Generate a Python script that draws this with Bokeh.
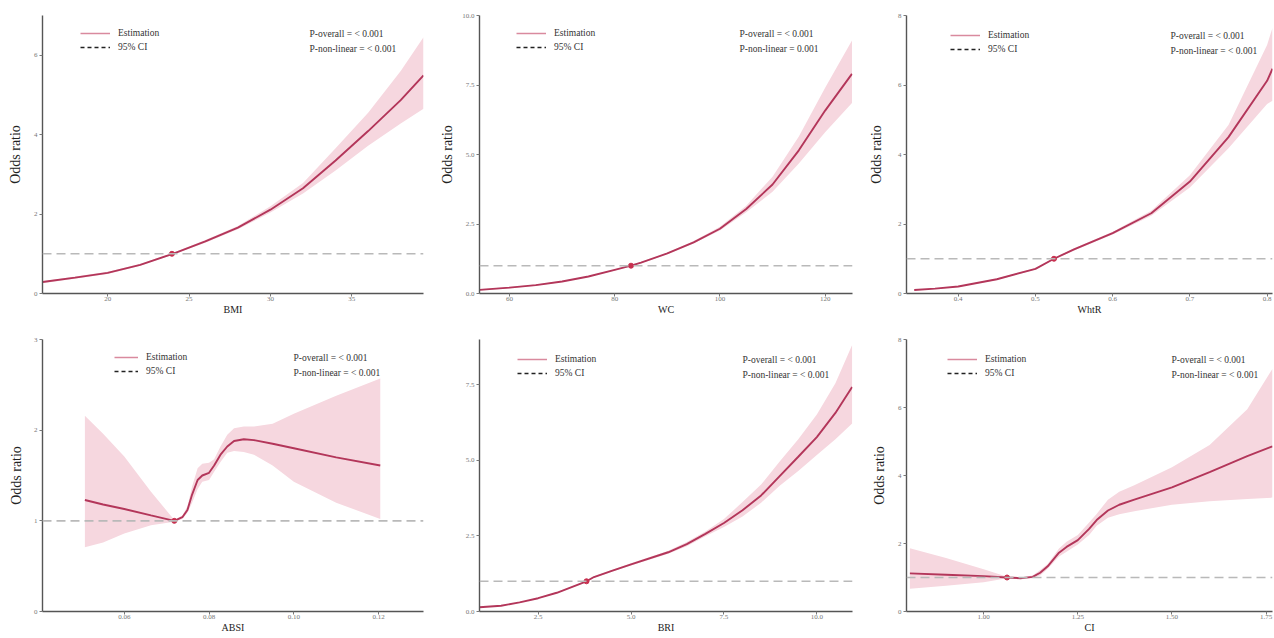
from bokeh.plotting import figure
from bokeh.layouts import gridplot
from bokeh.models import Span, Legend, LegendItem, Range1d, FixedTicker, Label
from bokeh.embed import file_html
from bokeh.resources import INLINE

# ---------------- data ----------------
x_names = ["BMI", "WC", "WhtR", "ABSI", "BRI", "CI"]
p_overall = ["P-overall = < 0.001"] * 6
p_nonlinear = ["P-non-linear = < 0.001", "P-non-linear = 0.001", "P-non-linear = < 0.001",
               "P-non-linear = < 0.001", "P-non-linear = < 0.001", "P-non-linear = < 0.001"]

bmi_x  = [16.0, 18, 20, 22, 24, 26, 28, 30, 32, 34, 36, 38, 39.4]
bmi_or = [0.29, 0.40, 0.52, 0.72, 1.0, 1.31, 1.66, 2.11, 2.65, 3.35, 4.09, 4.87, 5.49]
bmi_lo = [0.26, 0.37, 0.49, 0.70, 0.98, 1.28, 1.62, 2.04, 2.52, 3.10, 3.72, 4.28, 4.65]
bmi_hi = [0.31, 0.43, 0.55, 0.74, 1.02, 1.35, 1.70, 2.20, 2.78, 3.66, 4.55, 5.60, 6.45]
bmi_ref = 23.95

wc_x  = [54.3, 60, 65, 70, 75, 80, 83.1, 85, 90, 95, 100, 105, 110, 115, 120, 125.1]
wc_or = [0.13, 0.21, 0.30, 0.43, 0.61, 0.85, 1.0, 1.11, 1.44, 1.84, 2.33, 3.04, 3.92, 5.15, 6.58, 7.90]
wc_lo = [0.11, 0.19, 0.28, 0.41, 0.59, 0.83, 0.98, 1.09, 1.41, 1.80, 2.27, 2.92, 3.66, 4.68, 5.80, 6.85]
wc_hi = [0.15, 0.23, 0.32, 0.45, 0.63, 0.87, 1.02, 1.13, 1.47, 1.89, 2.40, 3.16, 4.20, 5.65, 7.40, 9.10]
wc_ref = 83.1

whtr_x  = [0.343, 0.37, 0.40, 0.45, 0.50, 0.524, 0.55, 0.60, 0.65, 0.70, 0.75, 0.80, 0.807]
whtr_or = [0.10, 0.14, 0.20, 0.41, 0.71, 1.0, 1.27, 1.74, 2.31, 3.22, 4.50, 6.12, 6.47]
whtr_lo = [0.09, 0.13, 0.19, 0.39, 0.69, 0.98, 1.24, 1.70, 2.24, 3.05, 4.18, 5.45, 5.55]
whtr_hi = [0.11, 0.15, 0.21, 0.43, 0.73, 1.02, 1.30, 1.78, 2.38, 3.40, 4.85, 7.15, 7.65]
whtr_ref = 0.524

absi_x  = [0.0507, 0.055, 0.060, 0.0663, 0.0718, 0.0737, 0.0749, 0.0760, 0.0773, 0.0784, 0.0800,
           0.0812, 0.0827, 0.0843, 0.0859, 0.0882, 0.0906, 0.095, 0.100, 0.110, 0.1204]
absi_or = [1.23, 1.18, 1.13, 1.06, 1.0, 1.04, 1.12, 1.29, 1.45, 1.50, 1.53,
           1.61, 1.73, 1.82, 1.88, 1.90, 1.89, 1.85, 1.80, 1.70, 1.61]
absi_lo = [0.71, 0.76, 0.86, 0.95, 0.99, 1.02, 1.09, 1.20, 1.35, 1.43, 1.45,
           1.54, 1.65, 1.75, 1.77, 1.76, 1.73, 1.61, 1.43, 1.20, 1.02]
absi_hi = [2.16, 1.96, 1.71, 1.32, 1.01, 1.06, 1.16, 1.38, 1.58, 1.63, 1.64,
           1.68, 1.82, 1.95, 2.02, 2.04, 2.04, 2.07, 2.18, 2.38, 2.57]
absi_ref = 0.0718

bri_x  = [0.92, 1.5, 2.0, 2.5, 3.0, 3.8, 4.0, 4.5, 5.0, 6.0, 6.5, 7.0, 7.5, 8.0, 8.5, 9.0, 9.5, 10.0, 10.5, 10.95]
bri_or = [0.14, 0.19, 0.30, 0.44, 0.62, 1.0, 1.14, 1.35, 1.56, 1.96, 2.23, 2.57, 2.93, 3.35, 3.84, 4.48, 5.12, 5.77, 6.57, 7.43]
bri_lo = [0.13, 0.18, 0.29, 0.42, 0.60, 0.98, 1.11, 1.32, 1.52, 1.91, 2.16, 2.49, 2.80, 3.14, 3.60, 4.16, 4.65, 5.18, 5.70, 6.22]
bri_hi = [0.15, 0.20, 0.31, 0.46, 0.64, 1.02, 1.17, 1.38, 1.60, 2.01, 2.30, 2.65, 3.06, 3.62, 4.20, 4.96, 5.70, 6.52, 7.55, 8.82]
bri_ref = 3.8

ci_x  = [0.804, 0.90, 1.00, 1.062, 1.10, 1.13, 1.15, 1.17, 1.20, 1.22, 1.25, 1.28, 1.30, 1.33, 1.36, 1.40, 1.50, 1.60, 1.70, 1.767]
ci_or = [1.12, 1.08, 1.04, 1.0, 0.98, 1.02, 1.14, 1.33, 1.73, 1.90, 2.10, 2.43, 2.69, 2.97, 3.14, 3.29, 3.65, 4.10, 4.57, 4.86]
ci_lo = [0.67, 0.76, 0.86, 0.98, 0.95, 0.98, 1.06, 1.26, 1.62, 1.76, 1.97, 2.25, 2.52, 2.76, 2.86, 2.95, 3.14, 3.24, 3.31, 3.35]
ci_hi = [1.86, 1.57, 1.24, 1.02, 1.01, 1.06, 1.22, 1.40, 1.85, 2.05, 2.25, 2.62, 2.87, 3.29, 3.52, 3.71, 4.24, 4.90, 5.95, 7.14]
ci_ref = 1.062

# tick positions and labels
bmi_xt, bmi_xl = [20, 25, 30, 35], ["20", "25", "30", "35"]
bmi_yt, bmi_yl = [0, 2, 4, 6], ["0", "2", "4", "6"]
wc_xt, wc_xl = [60, 80, 100, 120], ["60", "80", "100", "120"]
wc_yt, wc_yl = [0, 2.5, 5, 7.5, 10], ["0.0", "2.5", "5.0", "7.5", "10.0"]
whtr_xt, whtr_xl = [0.4, 0.5, 0.6, 0.7, 0.8], ["0.4", "0.5", "0.6", "0.7", "0.8"]
whtr_yt, whtr_yl = [0, 2, 4, 6, 8], ["0", "2", "4", "6", "8"]
absi_xt, absi_xl = [0.06, 0.08, 0.10, 0.12], ["0.06", "0.08", "0.10", "0.12"]
absi_yt, absi_yl = [0, 1, 2, 3], ["0", "1", "2", "3"]
bri_xt, bri_xl = [2.5, 5.0, 7.5, 10.0], ["2.5", "5.0", "7.5", "10.0"]
bri_yt, bri_yl = [0, 2.5, 5.0, 7.5], ["0.0", "2.5", "5.0", "7.5"]
ci_xt, ci_xl = [1.0, 1.25, 1.5, 1.75], ["1.00", "1.25", "1.50", "1.75"]
ci_yt, ci_yl = [0, 2, 4, 6, 8], ["0", "2", "4", "6", "8"]

# ---------------- style / layout ----------------
FONT = "Liberation Serif"
LINE_C = "#b3365a"
BAND_C = "#f6d7df"
LEG_C = "#d98a9e"

panels = [
    dict(x=bmi_x, y=bmi_or, lo=bmi_lo, hi=bmi_hi, ref=bmi_ref, xt=bmi_xt, xl=bmi_xl, yt=bmi_yt, yl=bmi_yl,
         xr=(16.0, 39.4), yr=(0, 7), W=432, H=320, bl=42, br=8, bt=13, bb=27, ylab=True, yls=8,
         lx=38, gw=30, px=267),
    dict(x=wc_x, y=wc_or, lo=wc_lo, hi=wc_hi, ref=wc_ref, xt=wc_xt, xl=wc_xl, yt=wc_yt, yl=wc_yl,
         xr=(54.3, 125.2), yr=(0, 10), W=432, H=320, bl=47, br=12, bt=13, bb=27, ylab=True, yls=4,
         lx=37, gw=30, px=260),
    dict(x=whtr_x, y=whtr_or, lo=whtr_lo, hi=whtr_hi, ref=whtr_ref, xt=whtr_xt, xl=whtr_xl, yt=whtr_yt, yl=whtr_yl,
         xr=(0.333, 0.807), yr=(0, 8), W=410, H=320, bl=35, br=2, bt=15, bb=27, ylab=True, yls=11,
         lx=44, gw=30, px=264),
    dict(x=absi_x, y=absi_or, lo=absi_lo, hi=absi_hi, ref=absi_ref, xt=absi_xt, xl=absi_xl, yt=absi_yt, yl=absi_yl,
         xr=(0.0407, 0.1306), yr=(0, 3), W=432, H=318, bl=41, br=9, bt=17, bb=27, ylab=True, yls=7,
         lx=72, gw=24, px=251),
    dict(x=bri_x, y=bri_or, lo=bri_lo, hi=bri_hi, ref=bri_ref, xt=bri_xt, xl=bri_xl, yt=bri_yt, yl=bri_yl,
         xr=(0.92, 10.96), yr=(0, 9), W=432, H=318, bl=47, br=9, bt=19, bb=27, ylab=False, yls=6,
         lx=38, gw=30, px=263),
    dict(x=ci_x, y=ci_or, lo=ci_lo, hi=ci_hi, ref=ci_ref, xt=ci_xt, xl=ci_xl, yt=ci_yt, yl=ci_yl,
         xr=(0.795, 1.767), yr=(0, 8), W=410, H=318, bl=42, br=2, bt=19, bb=27, ylab=True, yls=8,
         lx=41, gw=30, px=265),
]


def make_panel(i, c):
    p = figure(width=c["W"], height=c["H"], output_backend="svg", toolbar_location=None,
               x_range=Range1d(*c["xr"]), y_range=Range1d(*c["yr"]),
               min_border_left=c["bl"], min_border_right=c["br"],
               min_border_top=c["bt"], min_border_bottom=c["bb"])
    p.outline_line_color = None
    p.grid.visible = False
    p.background_fill_color = "white"
    p.border_fill_color = "white"

    fh = c["H"] - c["bt"] - c["bb"]

    p.varea(x=c["x"], y1=c["lo"], y2=c["hi"], fill_color=BAND_C, fill_alpha=1.0)
    p.add_layout(Span(location=1, dimension="width", line_color="#b9b9b9",
                      line_width=1.6, line_dash="9 5"))
    p.line(x=c["x"], y=c["y"], line_color=LINE_C, line_width=1.9)

    # legend proxies: zero-length lines at the reference point (draw nothing themselves)
    r_est = p.line(x=[c["ref"], c["ref"]], y=[1, 1], line_color=LEG_C, line_width=1.5)
    r_ci = p.line(x=[c["ref"], c["ref"]], y=[1, 1], line_color="#222222", line_width=1.3,
                  line_dash="4 3")
    p.scatter(x=[c["ref"]], y=[1], size=5, fill_color="#c8304f", line_color="#c8304f")

    leg = Legend(items=[LegendItem(label="Estimation", renderers=[r_est]),
                        LegendItem(label="95% CI", renderers=[r_ci])],
                 location=(c["lx"], fh - 15 - 24), orientation="vertical",
                 border_line_color=None, background_fill_alpha=0,
                 label_text_font=FONT, label_text_font_size="9.5px", label_text_color="#333333",
                 glyph_width=c["gw"], glyph_height=10, label_height=10, label_standoff=8,
                 spacing=4, padding=0, margin=0)
    p.add_layout(leg, "center")

    for k, txt in enumerate([p_overall[i], p_nonlinear[i]]):
        p.add_layout(Label(x=c["px"], y=fh - 20.5 - 14.5 * k, x_units="screen", y_units="screen",
                           text=txt, text_font=FONT, text_font_size="9.5px",
                           text_color="#333333", text_baseline="middle", text_align="left"))

    # axes
    for ax in (p.xaxis[0], p.yaxis[0]):
        ax.axis_line_color = "#555555"
        ax.axis_line_width = 1.4
        ax.major_tick_line_color = "#777777"
        ax.major_tick_out = 3
        ax.major_tick_in = 0
        ax.minor_tick_line_color = None
        ax.major_label_text_font = FONT
        ax.major_label_text_font_size = "7px"
        ax.major_label_text_color = "#777777"
        ax.axis_label_text_font = FONT
        ax.axis_label_text_font_style = "normal"
        ax.axis_label_text_color = "#222222"

    p.xaxis.ticker = FixedTicker(ticks=c["xt"])
    p.xaxis.major_label_overrides = {t: l for t, l in zip(c["xt"], c["xl"])}
    p.yaxis.ticker = FixedTicker(ticks=c["yt"])
    p.yaxis.major_label_overrides = {t: l for t, l in zip(c["yt"], c["yl"])}
    p.xaxis.axis_label = x_names[i]
    p.xaxis.axis_label_text_font_size = "10px"
    p.xaxis.major_label_standoff = 0
    p.xaxis.axis_label_standoff = 0
    p.yaxis.major_label_standoff = 2
    if c["ylab"]:
        p.yaxis.axis_label = "Odds ratio"
        p.yaxis.axis_label_text_font_size = "14px"
        p.yaxis.axis_label_standoff = c["yls"]
    return p


figs = [make_panel(i, c) for i, c in enumerate(panels)]
grid = gridplot([figs[:3], figs[3:]], toolbar_location=None)

open("out.html", "w").write(file_html(grid, INLINE))
